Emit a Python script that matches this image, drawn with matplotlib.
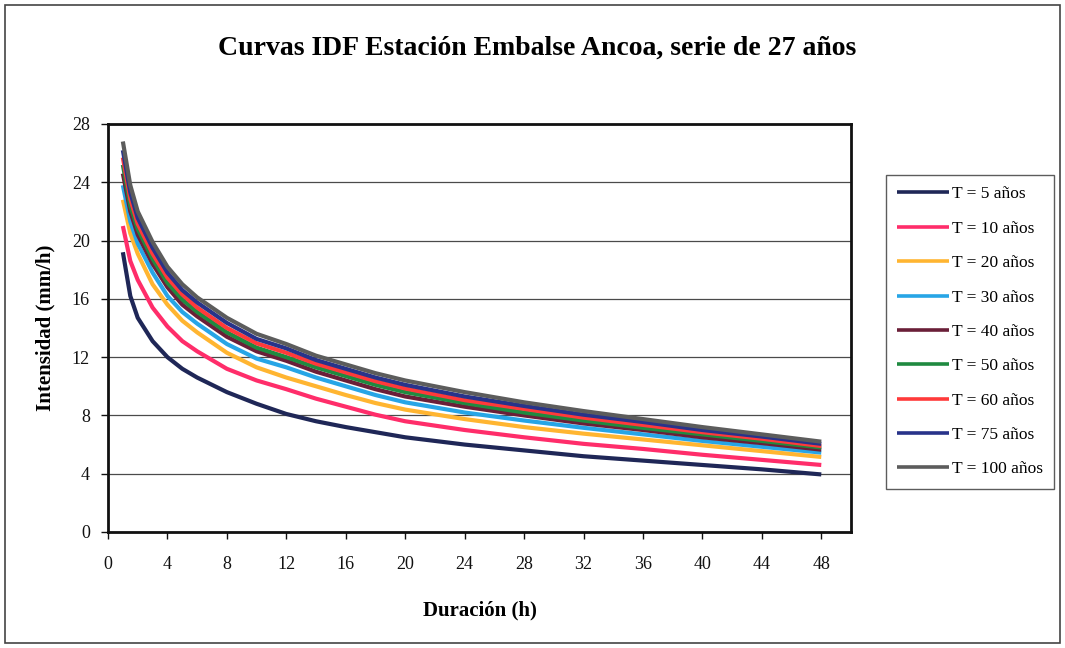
import numpy as np
import matplotlib
matplotlib.use("Agg")
import matplotlib.pyplot as plt
from matplotlib.patches import Rectangle

plt.rcParams['font.family'] = ['Liberation Serif', 'DejaVu Serif']

# Duraciones (h) y curvas IDF por periodo de retorno (mm/h)
duracion = [1, 1.5, 2, 3, 4, 5, 6, 8, 10, 12, 14, 16, 18, 20, 24, 28, 32, 36, 40, 44, 48]

t5 = [19.2, 16.2, 14.7, 13.1, 12.0, 11.2, 10.6, 9.6, 8.8, 8.1, 7.6, 7.2, 6.85, 6.5,
      6.0, 5.6, 5.2, 4.9, 4.6, 4.3, 3.95]
t10 = [21.0, 18.6, 17.3, 15.4, 14.1, 13.1, 12.4, 11.2, 10.4, 9.8, 9.15, 8.6, 8.05, 7.6,
       7.0, 6.5, 6.05, 5.7, 5.3, 4.95, 4.6]
t20 = [22.8, 20.5, 19.1, 17.0, 15.6, 14.5, 13.7, 12.3, 11.3, 10.6, 10.0, 9.4, 8.85, 8.4,
       7.75, 7.2, 6.75, 6.35, 5.95, 5.55, 5.15]
t30 = [23.8, 21.3, 19.8, 17.8, 16.2, 15.1, 14.3, 12.9, 11.9, 11.3, 10.6, 10.0, 9.4, 8.9,
       8.2, 7.65, 7.15, 6.7, 6.25, 5.85, 5.45]
t40 = [24.6, 22.0, 20.4, 18.4, 16.8, 15.6, 14.8, 13.4, 12.4, 11.75, 11.0, 10.4, 9.8, 9.3,
       8.6, 8.0, 7.45, 7.0, 6.5, 6.1, 5.65]
t50 = [25.2, 22.4, 20.8, 18.75, 17.1, 15.95, 15.1, 13.7, 12.65, 12.0, 11.3, 10.7, 10.1, 9.6,
       8.85, 8.2, 7.65, 7.15, 6.7, 6.25, 5.8]
t60 = [25.7, 22.85, 21.15, 19.1, 17.45, 16.3, 15.4, 14.0, 12.95, 12.3, 11.55, 10.95, 10.35, 9.85,
       9.05, 8.45, 7.85, 7.35, 6.85, 6.4, 5.9]
t75 = [26.2, 23.3, 21.55, 19.5, 17.8, 16.6, 15.75, 14.35, 13.25, 12.6, 11.8, 11.2, 10.6, 10.1,
       9.3, 8.65, 8.05, 7.55, 7.0, 6.55, 6.05]
t100 = [26.8, 23.8, 22.0, 19.9, 18.2, 17.0, 16.1, 14.7, 13.6, 12.9, 12.1, 11.5, 10.9, 10.4,
        9.6, 8.9, 8.3, 7.75, 7.2, 6.7, 6.2]

etiquetas = ['T = 5 años', 'T = 10 años', 'T = 20 años', 'T = 30 años', 'T = 40 años',
             'T = 50 años', 'T = 60 años', 'T = 75 años', 'T = 100 años']
colores = ['#1f2757', '#ff2d6a', '#ffb531', '#27a5e6', '#6a1f38',
           '#1f8a40', '#ff3a3a', '#28338a', '#5c5c5c']
series = [t5, t10, t20, t30, t40, t50, t60, t75, t100]

fig = plt.figure(figsize=(10.65, 6.48), dpi=100)
fig.patch.set_facecolor('white')

# marco exterior del gráfico
fig.patches.append(Rectangle((5 / 1065, 5 / 648), 1055 / 1065, 638 / 648,
                             transform=fig.transFigure, fill=False,
                             edgecolor='#444444', linewidth=1.2))

ax = fig.add_axes([108 / 1065, 1 - 532 / 648, 743 / 1065, 408 / 648])

for y, lab, c in zip(series, etiquetas, colores):
    ax.plot(duracion, y, color=c, linewidth=3.0, label=lab,
            solid_capstyle='butt', solid_joinstyle='round')

ax.set_xlim(0, 50)
ax.set_ylim(0, 28)
ax.set_xticks(np.arange(0, 49, 4))
ax.set_yticks(np.arange(0, 29, 4))
ax.grid(axis='y', color='#4a4a4a', linewidth=0.9)
ax.set_axisbelow(True)
for s in ax.spines.values():
    s.set_linewidth(2.0)
    s.set_color('#111111')
ax.tick_params(axis='both', direction='out', length=5, width=1.0, labelsize=13,
               colors='#111111')
ax.tick_params(axis='x', pad=12)
ax.tick_params(axis='y', pad=8)

ax.set_xlabel('Duración (h)', fontsize=15, fontweight='bold', labelpad=20)
ax.set_ylabel('Intensidad (mm/h)', fontsize=15, fontweight='bold', labelpad=12)

fig.text(537 / 1065, 1 - 48 / 648, 'Curvas IDF Estación Embalse Ancoa, serie de 27 años',
         ha='center', va='center', fontsize=20, fontweight='bold')

leg = fig.legend(loc='upper left', bbox_to_anchor=(886 / 1065, 1 - 175 / 648),
                 fontsize=12.5, frameon=True, fancybox=False, handlelength=3.0,
                 handletextpad=0.15, labelspacing=1.05, borderpad=0.65,
                 borderaxespad=0)
leg.get_frame().set_edgecolor('#333333')
leg.get_frame().set_linewidth(1.0)
for h in leg.get_lines():
    h.set_linewidth(2.6)

fig.savefig('out.png', dpi=100)
